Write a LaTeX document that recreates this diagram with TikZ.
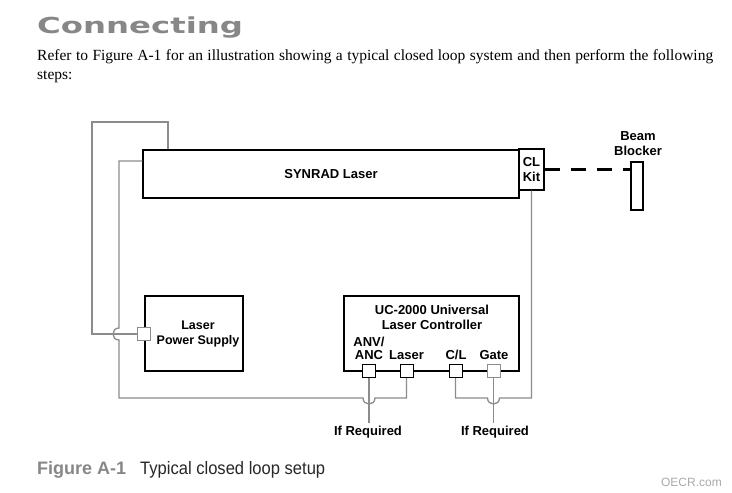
\documentclass[tikz,border=0pt]{standalone}
\usepackage{fontspec}
\usepackage{graphicx}
\setmainfont{Liberation Serif}
\setsansfont{Liberation Sans}
\newfontfamily\titlefont{DejaVu Sans}
\definecolor{wiregray}{RGB}{140,140,140}
\definecolor{headgray}{RGB}{135,135,135}
\definecolor{capgray}{RGB}{40,40,40}
\definecolor{markgray}{RGB}{170,170,170}
\begin{document}
\begin{tikzpicture}[x=1pt,y=-1pt,
  box/.style={draw=black,line width=1.1pt,inner sep=0pt},
  lbl/.style={font=\sffamily\bfseries\fontsize{13}{15}\selectfont,align=center,inner sep=0pt},
  port/.style={draw=black,line width=1pt,fill=white,minimum size=13pt,inner sep=0pt},
  gport/.style={port,draw=wiregray},
  wire/.style={draw=wiregray,line width=1.3pt},
]
\useasboundingbox[fill=white] (0,0) rectangle (732,493);

% heading and text
\node[anchor=base west,inner sep=0pt] (title) at (37,33.5)
  {\titlefont\bfseries\fontsize{22}{22}\selectfont\color{headgray}\scalebox{1.47}[1]{Connecting}};
\node[anchor=base west,inner sep=0pt] (body1) at (37,60)
  {\fontsize{15.5}{17}\selectfont\makebox[676pt][s]{Refer to Figure A-1 for an illustration showing a typical closed loop system and then perform the following}};
\node[anchor=base west,inner sep=0pt] (body2) at (37,79)
  {\fontsize{15.5}{17}\selectfont steps:};

% laser
\node[box,lbl,minimum width=376pt,minimum height=48pt] (laser) at (331,174) {SYNRAD Laser};
\node[box,lbl,fill=white,minimum width=25pt,minimum height=41pt] (clkit) at (531.5,169.5) {CL\\Kit};
\node[box,minimum width=12pt,minimum height=48pt] (blocker) at (637,186) {};
\node[lbl] (beamlbl) at (638,144) {Beam\\Blocker};
\draw[line width=2.2pt,dash pattern=on 15pt off 11pt] (clkit.east) -- (clkit.east -| blocker.west);

% power supply
\node[box,minimum width=98pt,minimum height=75pt] (psu) at (194,333.5) {};
\node[lbl,font=\sffamily\bfseries\fontsize{12.5}{15}\selectfont] (psutxt) at (198,333.5) {Laser\\Power Supply};

% controller
\node[box,minimum width=175pt,minimum height=75pt] (ctrl) at (431.5,333.5) {};
\node[lbl] (ctrltxt) at (432,317) {UC-2000 Universal\\Laser Controller};
\node[lbl,font=\sffamily\bfseries\fontsize{13}{13}\selectfont] (anvlbl) at (369,348.5) {ANV/\\ANC};
\node[lbl] (laslbl) at (406.5,355) {Laser};
\node[lbl] (cllbl) at (456,355) {C/L};
\node[lbl] (gatelbl) at (494,355) {Gate};

\node[lbl,inner sep=3pt] (ifreq1) at (368,432) {If Required};
\node[lbl,inner sep=3pt] (ifreq2) at (495,432) {If Required};

% wires
\coordinate (w1a) at (92,334);
\coordinate (w1b) at (92,122);
\coordinate (w1c) at (168,122);
\draw[wire] (143.5,334) -- (w1a) -- (w1b) -- (w1c) -- (w1c |- laser.north);

\draw[wire] (laser.west |- 0,161) -- (119,161) -- (119,328)
  .. controls (111,328) and (111,340) .. (119,340)
  -- (119,398) -- (363,398)
  .. controls (363,406) and (375,406) .. (375,398)
  -- (406.5,398) -- (406.5,371);

\draw[wire] (clkit.south) -- (531.5,398) -- (499.5,398)
  .. controls (499.5,406) and (487.5,406) .. (487.5,398)
  -- (455.5,398) -- (455.5,371);

\draw[wire] (369,371) -- (369,398 |- ifreq1.north);
\draw[wire] (493.5,371) -- (493.5,398 |- ifreq2.north);

% ports
\node[gport] (psuport) at (143.5,334) {};
\node[port] (anv) at (369,371) {};
\node[port] (lasp) at (406.5,371) {};
\node[port] (clp) at (455.5,371) {};
\node[gport] (gate) at (493.5,371) {};

% caption
\node[anchor=base west,inner sep=0pt] (cap1) at (37,474)
  {\sffamily\bfseries\fontsize{18}{18}\selectfont\color{headgray}Figure A-1};
\node[anchor=base west,inner sep=0pt] (cap2) at (140,474)
  {\sffamily\fontsize{18}{18}\selectfont\color{capgray}\scalebox{0.92}[1]{Typical closed loop setup}};
\node[anchor=base east,inner sep=0pt] (oecr) at (722,486)
  {\sffamily\fontsize{12}{12}\selectfont\color{markgray}OECR.com};
\end{tikzpicture}
\end{document}
